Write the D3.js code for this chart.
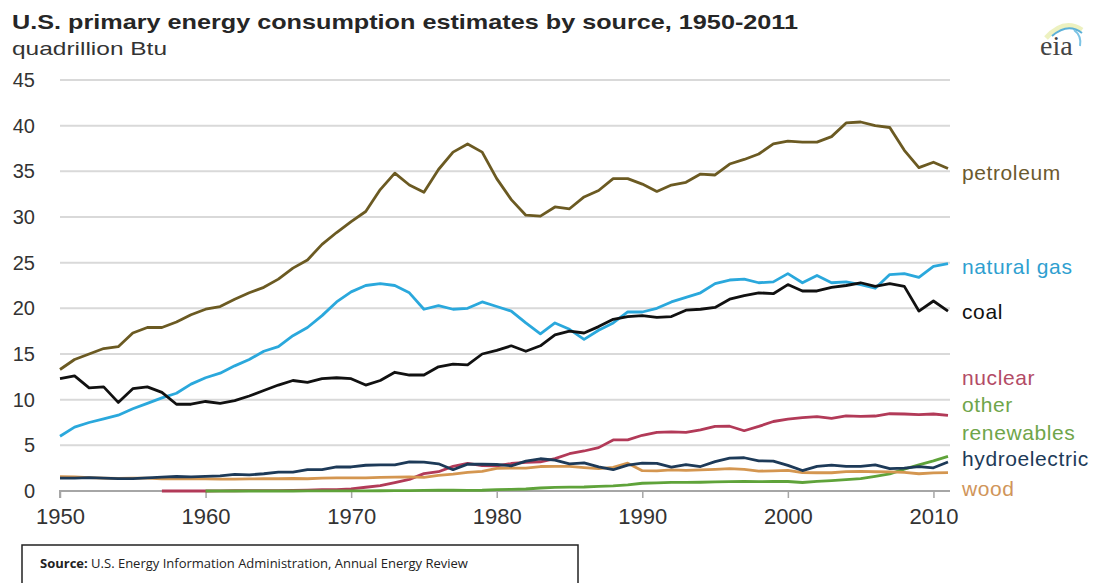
<!DOCTYPE html>
<html>
<head>
<meta charset="utf-8">
<script src="https://cdn.jsdelivr.net/npm/d3@7"></script>
<style>
  html, body { margin: 0; padding: 0; background: #fff; }
  svg { display: block; }
</style>
</head>
<body>
<svg id="chart" width="1107" height="583"></svg>
<script>
const years = [1950,1951,1952,1953,1954,1955,1956,1957,1958,1959,
  1960,1961,1962,1963,1964,1965,1966,1967,1968,1969,
  1970,1971,1972,1973,1974,1975,1976,1977,1978,1979,
  1980,1981,1982,1983,1984,1985,1986,1987,1988,1989,
  1990,1991,1992,1993,1994,1995,1996,1997,1998,1999,
  2000,2001,2002,2003,2004,2005,2006,2007,2008,2009,
  2010,2011];

const petroleum = [13.3,14.4,15.0,15.6,15.8,17.3,17.9,17.9,18.5,19.3,
  19.9,20.2,21.0,21.7,22.3,23.2,24.4,25.3,27.0,28.3,
  29.5,30.6,33.0,34.8,33.5,32.7,35.2,37.1,38.0,37.1,
  34.2,31.9,30.2,30.1,31.1,30.9,32.2,32.9,34.2,34.2,
  33.6,32.8,33.5,33.8,34.7,34.6,35.8,36.3,36.9,38.0,
  38.3,38.2,38.2,38.8,40.3,40.4,40.0,39.8,37.3,35.4,
  36.0,35.3];

const naturalGas = [6.0,7.0,7.5,7.9,8.3,9.0,9.6,10.2,10.7,11.7,
  12.4,12.9,13.7,14.4,15.3,15.8,17.0,17.9,19.2,20.7,
  21.8,22.5,22.7,22.5,21.7,19.9,20.3,19.9,20.0,20.7,
  20.2,19.7,18.4,17.2,18.4,17.7,16.6,17.6,18.4,19.6,
  19.6,20.0,20.7,21.2,21.7,22.7,23.1,23.2,22.8,22.9,
  23.8,22.8,23.6,22.8,22.9,22.6,22.2,23.7,23.8,23.4,
  24.6,24.9];

const coal = [12.3,12.6,11.3,11.4,9.7,11.2,11.4,10.8,9.5,9.5,
  9.8,9.6,9.9,10.4,11.0,11.6,12.1,11.9,12.3,12.4,
  12.3,11.6,12.1,13.0,12.7,12.7,13.6,13.9,13.8,15.0,
  15.4,15.9,15.3,15.9,17.1,17.5,17.3,18.0,18.8,19.1,
  19.2,19.0,19.1,19.8,19.9,20.1,21.0,21.4,21.7,21.6,
  22.6,21.9,21.9,22.3,22.5,22.8,22.4,22.7,22.4,19.7,
  20.8,19.7];

const nuclear = [null,null,null,null,null,null,null,0.0,0.0,0.0,
  0.0,0.02,0.03,0.04,0.04,0.04,0.06,0.09,0.14,0.15,
  0.24,0.41,0.58,0.91,1.27,1.90,2.11,2.70,3.02,2.78,
  2.74,3.01,3.13,3.20,3.55,4.08,4.38,4.75,5.59,5.60,
  6.10,6.42,6.48,6.41,6.69,7.08,7.09,6.60,7.07,7.61,
  7.86,8.03,8.15,7.96,8.22,8.16,8.21,8.46,8.43,8.36,
  8.43,8.27];

const otherRenewables = [null,null,null,null,null,null,null,null,null,null,
  0.0,0.0,0.0,0.0,0.0,0.0,0.0,0.01,0.01,0.01,
  0.01,0.02,0.03,0.05,0.05,0.07,0.08,0.08,0.06,0.08,
  0.15,0.18,0.22,0.33,0.39,0.42,0.44,0.50,0.56,0.68,
  0.85,0.89,0.95,0.94,0.96,0.99,1.03,1.04,1.03,1.04,
  1.04,0.93,1.05,1.14,1.24,1.35,1.60,1.87,2.40,2.85,
  3.30,3.80];

const hydroelectric = [1.42,1.42,1.47,1.41,1.36,1.36,1.44,1.52,1.59,1.55,
  1.61,1.66,1.82,1.77,1.89,2.06,2.06,2.35,2.35,2.65,
  2.63,2.82,2.86,2.86,3.18,3.16,2.98,2.33,2.94,2.93,
  2.90,2.76,3.27,3.53,3.39,2.97,3.07,2.64,2.33,2.84,
  3.05,3.02,2.62,2.89,2.68,3.21,3.59,3.64,3.30,3.27,
  2.81,2.24,2.69,2.83,2.69,2.70,2.87,2.45,2.51,2.67,
  2.54,3.17];

const wood = [1.56,1.54,1.47,1.42,1.39,1.42,1.42,1.33,1.32,1.35,
  1.32,1.30,1.30,1.32,1.34,1.34,1.37,1.34,1.42,1.44,
  1.43,1.43,1.50,1.53,1.54,1.50,1.71,1.84,2.04,2.15,
  2.48,2.50,2.51,2.68,2.69,2.69,2.56,2.46,2.58,3.05,
  2.22,2.21,2.31,2.26,2.32,2.37,2.44,2.37,2.18,2.21,
  2.26,2.01,2.00,2.00,2.12,2.14,2.11,2.10,2.04,1.89,
  1.99,2.01];

const yTicks = [0,5,10,15,20,25,30,35,40,45];
const xTickLabels = [1950,1960,1970,1980,1990,2000,2010];

const seriesNames = ["petroleum","natural gas","coal","nuclear","other renewables","wood","hydroelectric"];
const seriesValues = [petroleum, naturalGas, coal, nuclear, otherRenewables, wood, hydroelectric];
const seriesColors = ["#6b5a22","#2aa8dc","#111111","#b23a58","#5fa33a","#d49650","#1d3a58"];

const labelNames = ["petroleum","natural gas","coal","nuclear","other","renewables","hydroelectric","wood"];
const labelColors = ["#6b5a2e","#2f9fd0","#111111","#b34b66","#6fa54a","#6fa54a","#1d3a58","#d0955a"];
const labelY = [34.8, 24.5, 19.6, 12.4, 9.4, 6.4, 3.5, 0.2];

const svg = d3.select("#chart");
const x = d3.scaleLinear().domain([1950, 2011]).range([60, 948]);
const y = d3.scaleLinear().domain([0, 45]).range([491, 80]);

// gridlines
svg.append("g").selectAll("line").data(yTicks.filter(d => d > 0)).join("line")
  .attr("x1", 60).attr("x2", 950)
  .attr("y1", d => y(d)).attr("y2", d => y(d))
  .attr("stroke", "#d9d9d9").attr("stroke-width", 2);

// y labels
svg.append("g").selectAll("text").data(yTicks).join("text")
  .attr("x", 35).attr("y", d => y(d) + 7)
  .attr("text-anchor", "end")
  .attr("font-family", "Liberation Sans, Arial, sans-serif")
  .attr("font-size", 20).attr("fill", "#333")
  .text(d => d);

// x axis
const xAxis = d3.axisBottom(x).tickValues(xTickLabels).tickFormat(d3.format("d")).tickSize(7).tickPadding(10);
const gx = svg.append("g").attr("transform", `translate(0,${y(0)})`).call(xAxis);
gx.select(".domain").attr("stroke", "#a6a6a6").attr("stroke-width", 2).attr("d", `M60,7V0H950`);
gx.selectAll(".tick line").attr("stroke", "#a6a6a6").attr("stroke-width", 1.5);
gx.selectAll(".tick text").attr("font-family", "Liberation Sans, Arial, sans-serif")
  .attr("font-size", 22).attr("fill", "#333");

// lines
const line = d3.line()
  .defined(d => d[1] !== null)
  .x(d => x(d[0])).y(d => y(d[1]));

svg.append("g").selectAll("path").data(seriesValues).join("path")
  .attr("d", vals => line(years.map((yr, i) => [yr, vals[i]])))
  .attr("fill", "none")
  .attr("stroke", (d, i) => seriesColors[i])
  .attr("stroke-width", 2.8)
  .attr("stroke-linejoin", "round");

// right labels
svg.append("g").selectAll("text").data(labelNames).join("text")
  .attr("x", 962).attr("y", (d, i) => y(labelY[i]) + 7)
  .attr("font-family", "Liberation Sans, Arial, sans-serif")
  .attr("font-size", 21).attr("letter-spacing", 0.6)
  .attr("fill", (d, i) => labelColors[i])
  .text(d => d);

// title & unit
svg.append("text").attr("x", 12).attr("y", 29)
  .attr("font-family", "Liberation Sans, Arial, sans-serif")
  .attr("font-size", 21).attr("font-weight", "bold").attr("fill", "#262626")
  .attr("textLength", 786).attr("lengthAdjust", "spacingAndGlyphs")
  .text("U.S. primary energy consumption estimates by source, 1950-2011");
svg.append("text").attr("x", 12).attr("y", 55)
  .attr("font-family", "Liberation Sans, Arial, sans-serif")
  .attr("font-size", 19).attr("fill", "#333")
  .attr("textLength", 155).attr("lengthAdjust", "spacingAndGlyphs")
  .text("quadrillion Btu");

// eia logo
const logo = svg.append("g");
logo.append("path").attr("d", "M1046,38 Q1064,18 1082,30").attr("fill", "none")
  .attr("stroke", "#e8edb0").attr("stroke-width", 5).attr("opacity", 0.8);
logo.append("path").attr("d", "M1052,36 Q1068,22 1082,33").attr("fill", "none")
  .attr("stroke", "#5bb0d8").attr("stroke-width", 2);
logo.append("path").attr("d", "M1074,30 Q1082,36 1080,46").attr("fill", "none")
  .attr("stroke", "#7cc3e4").attr("stroke-width", 2);
logo.append("text").attr("x", 1040).attr("y", 55)
  .attr("font-family", "Liberation Serif, Times New Roman, serif")
  .attr("font-size", 28).attr("fill", "#444").text("eia");

// source box
svg.append("rect").attr("x", 22).attr("y", 545).attr("width", 556).attr("height", 50)
  .attr("fill", "#fff").attr("stroke", "#222").attr("stroke-width", 1.5);
const src = svg.append("text").attr("x", 40).attr("y", 568)
  .attr("font-family", "Open Sans, Lato, sans-serif")
  .attr("font-size", 13).attr("fill", "#222");
src.append("tspan").attr("font-weight", "bold").text("Source:");
src.append("tspan").text(" U.S. Energy Information Administration, Annual Energy Review");
</script>
</body>
</html>
